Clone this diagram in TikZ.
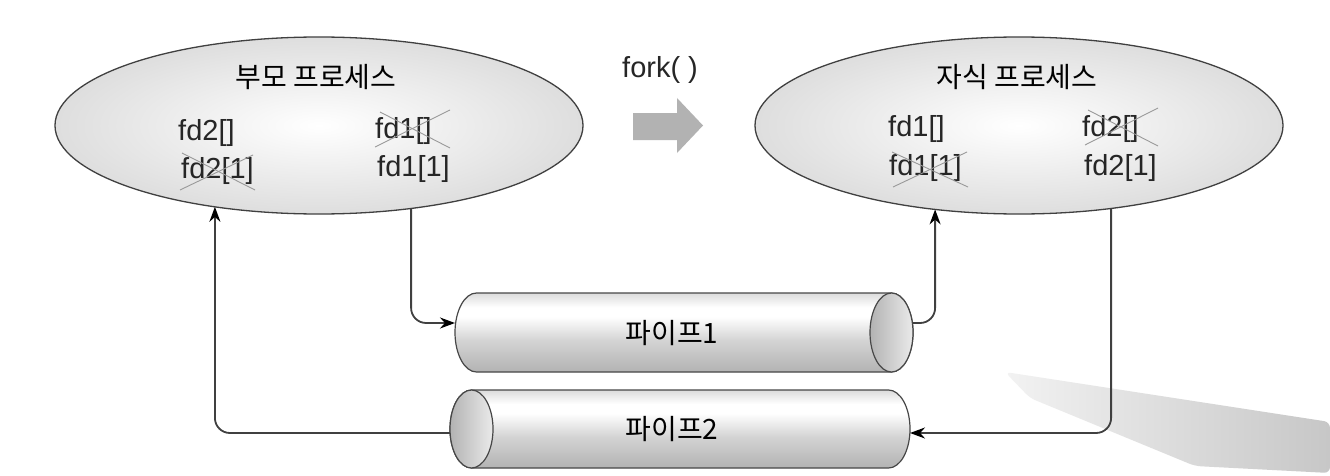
\documentclass[tikz,border=0pt]{standalone}
\usepackage{fontspec}
\setmainfont{Liberation Sans}
\newfontfamily\krfont{Noto Sans CJK KR}
\usetikzlibrary{shapes.geometric,arrows.meta,calc}

% body of a pipe: light top rim, bright highlight band, darker underside
\pgfdeclareverticalshading{pipebody}{100bp}{%
  color(0bp)=(black!30); color(25bp)=(black!30); color(45bp)=(black!17);
  color(60bp)=(white); color(66bp)=(white); color(75bp)=(black!14);
  color(100bp)=(black!14)}

\begin{document}
\begin{tikzpicture}[x=1pt,y=1pt,
  proc/.style={ellipse, draw=black!75, line width=1.3pt, inner sep=0pt,
    outer sep=0pt, minimum width=528pt, minimum height=177pt,
    inner color=white, outer color=black!13},
  krtext/.style={font=\krfont\fontsize{28}{32}\selectfont,
    text height=23pt, text depth=2pt, inner sep=0pt},
  fdtext/.style={font=\fontsize{29}{34}\selectfont, inner sep=0pt,
    anchor=base west, text=black!85},
  strike/.style={draw=black!40, line width=0.9pt},
  pipenode/.style={rectangle, inner sep=0pt, outer sep=0pt},
  pipeline/.style={draw=black!72, line width=1.2pt},
  conn/.style={draw=black!75, line width=1.8pt, rounded corners=15pt,
    -{Stealth[length=15pt,width=11pt,color=black]}},
  forkarrow/.style={fill=black!30}]

\useasboundingbox (0,0) rectangle (1330,475);
\fill[white] (0,0) rectangle (1330,475);

% faint grey wedge in the lower right corner
\shade[left color=black!5, right color=black!22, rounded corners=6pt]
  (1030,77) -- (1005,103) -- (1330,53) -- (1330,2) -- (1195,9) -- cycle;

% pipe 1 (open end facing right)
\node[pipenode, minimum width=458pt, minimum height=79pt] (p1) at (684,142.5) {};
\shade[shading=pipebody, pipeline]
  ($(p1.north west)+(21.5,0)$) -- ($(p1.north east)+(-21.5,0)$)
  arc[start angle=90, end angle=-90, x radius=21.5, y radius=39.5]
  -- ($(p1.south west)+(21.5,0)$)
  arc[start angle=270, end angle=90, x radius=21.5, y radius=39.5] -- cycle;
\shade[pipeline, left color=black!30, right color=black!8]
  ($(p1.east)+(-21.5,0)$) ellipse[x radius=21.5, y radius=39.5];
\node[krtext] (p1t) at (672,142.5) {파이프1};

% pipe 2 (open end facing left)
\node[pipenode, minimum width=460pt, minimum height=78pt] (p2) at (680,46) {};
\shade[shading=pipebody, pipeline]
  ($(p2.north west)+(21.5,0)$) -- ($(p2.north east)+(-21.5,0)$)
  arc[start angle=90, end angle=-90, x radius=21.5, y radius=39]
  -- ($(p2.south west)+(21.5,0)$)
  arc[start angle=270, end angle=90, x radius=21.5, y radius=39] -- cycle;
\shade[pipeline, left color=black!30, right color=black!8]
  ($(p2.west)+(21.5,0)$) ellipse[x radius=21.5, y radius=39];
\node[krtext] (p2t) at (672,46) {파이프2};

% parent and child processes
\node[proc] (L) at (319,349.5) {};
\node[proc] (R) at (1019,349.5) {};

\node[krtext] (Lt) at (316,397.5) {부모 프로세스};
\node[krtext] (Rt) at (1017,397.5) {자식 프로세스};

\node[fdtext] (L1) at (178,335) {fd2[]};
\node[fdtext] (L2) at (181,297) {fd2[1]};
\node[fdtext] (L3) at (375,337) {fd1[]};
\node[fdtext] (L4) at (377,299) {fd1[1]};

\node[fdtext] (R1) at (888,338) {fd1[]};
\node[fdtext] (R2) at (889,300) {fd1[1]};
\node[fdtext] (R3) at (1082,338) {fd2[]};
\node[fdtext] (R4) at (1084,300) {fd2[1]};

% closed descriptors
\draw[strike] (375,328) -- (450,365);
\draw[strike] (380,363) -- (450,327);
\draw[strike] (180,285) -- (253,320);
\draw[strike] (182,322) -- (255,285);
\draw[strike] (1085,330) -- (1158,367);
\draw[strike] (1088,365) -- (1158,329);
\draw[strike] (893,288) -- (967,323);
\draw[strike] (892,323) -- (968,288);

% fork()
\node[fdtext] (fk) at (622,397) {fork( )};
\fill[forkarrow] (633,362) -- (677,362) -- (677,377) -- (703,349.5)
  -- (677,322) -- (677,335) -- (633,335) -- cycle;

% data flow through the pipes
\coordinate (p1in)  at ($(p1.west)+(0,9.5)$);
\coordinate (p1out) at ($(p1.east)+(0,9.5)$);
\coordinate (p2in)  at ($(p2.east)+(0,-4)$);
\coordinate (p2out) at ($(p2.west)+(0,-4)$);

\draw[conn] (L.318.3) |- (p1in);
\draw[conn] (p1out) -| (R.225.7);
\draw[conn] (R.318.66) |- (p2in);
\draw[conn] (p2out) -| (L.218.66);
\end{tikzpicture}
\end{document}
